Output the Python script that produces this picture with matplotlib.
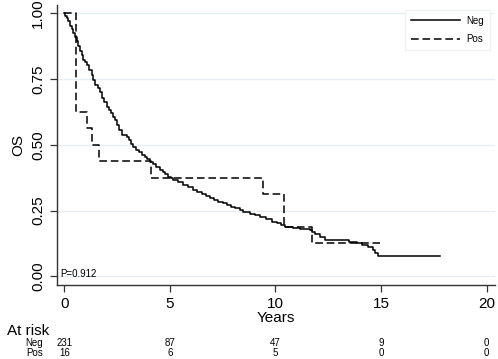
import matplotlib
matplotlib.use("Agg")
import matplotlib.pyplot as plt

plt.rcParams['font.family'] = ['Liberation Sans', 'DejaVu Sans']

# Kaplan-Meier steps
neg_t = [0, 0.05, 0.11, 0.18, 0.27, 0.34, 0.42, 0.5, 0.58, 0.66, 0.74, 0.82, 0.9,
         0.98, 1.06, 1.17, 1.29, 1.37, 1.45, 1.57, 1.69, 1.78, 1.88, 2.0, 2.1, 2.2,
         2.3, 2.4, 2.5, 2.6, 2.72, 2.95, 3.05, 3.16, 3.27, 3.4, 3.53, 3.66, 3.8,
         3.93, 4.06, 4.2, 4.36, 4.53, 4.65, 4.78, 4.92, 5.04, 5.16, 5.4, 5.6, 5.85,
         6.11, 6.3, 6.5, 6.7, 6.9, 7.1, 7.3, 7.5, 7.69, 7.9, 8.1, 8.3, 8.48, 8.8,
         9.05, 9.27, 9.55, 9.82, 10.06, 10.25, 10.46, 10.85, 11.16, 11.64, 11.75,
         11.88, 12.1, 12.35, 13.22, 13.5, 13.85, 14.1, 14.4, 14.6, 14.72, 14.88, 17.8]
neg_s = [1.0, 0.99, 0.982, 0.97, 0.951, 0.94, 0.925, 0.91, 0.894, 0.875, 0.856,
         0.84, 0.824, 0.815, 0.805, 0.786, 0.767, 0.748, 0.729, 0.715, 0.70, 0.68,
         0.662, 0.645, 0.632, 0.62, 0.607, 0.594, 0.575, 0.556, 0.537, 0.531, 0.518,
         0.505, 0.493, 0.482, 0.471, 0.461, 0.453, 0.445, 0.436, 0.426, 0.415,
         0.404, 0.396, 0.388, 0.379, 0.372, 0.366, 0.357, 0.348, 0.338, 0.328,
         0.32, 0.312, 0.305, 0.297, 0.29, 0.284, 0.277, 0.271, 0.264, 0.258, 0.252,
         0.246, 0.238, 0.232, 0.227, 0.218, 0.208, 0.203, 0.196, 0.189, 0.183,
         0.179, 0.176, 0.168, 0.161, 0.15, 0.138, 0.138, 0.132, 0.125, 0.12, 0.113,
         0.1, 0.087, 0.076, 0.076]

pos_t = [0, 0.54, 1.09, 1.32, 1.64, 4.09, 9.43, 10.4, 11.72, 14.96]
pos_s = [1.0, 0.625, 0.5625, 0.5, 0.4375, 0.375, 0.3125, 0.1875, 0.125, 0.125]

risk_times = [0, 5, 10, 15, 20]
risk_neg = [231, 87, 47, 9, 0]
risk_pos = [16, 6, 5, 0, 0]

W, H = 498, 359
fig = plt.figure(figsize=(W / 100, H / 100), dpi=100)
ax = fig.add_axes([56.7 / W, 1 - 284.7 / H, (495 - 56.7) / W, (284.7 - 5) / H])

ax.step(neg_t, neg_s, where='post', color='black', lw=1.1, label='Neg')
ax.step(pos_t, pos_s, where='post', color='black', lw=1.1,
        dashes=(5, 2.5), label='Pos')

ax.set_xlim(-0.365, 20.4)
ax.set_ylim(-0.032, 1.032)
ax.set_xticks(risk_times)
ax.set_yticks([0, 0.25, 0.5, 0.75, 1.0])
ax.set_yticklabels(['0.00', '0.25', '0.50', '0.75', '1.00'], rotation=90, va='center')
ax.tick_params(labelsize=11, length=5, width=0.9, color='#333333')
ax.tick_params(axis='x', pad=4)
ax.grid(axis='y', color='#e6eff3', lw=1)
ax.set_axisbelow(True)
for s in ['top', 'right']:
    ax.spines[s].set_visible(False)
for s in ['left', 'bottom']:
    ax.spines[s].set_color('#333333')
    ax.spines[s].set_linewidth(1)

ax.set_ylabel('OS', fontsize=11, labelpad=4)
ax.set_xlabel('Years', fontsize=11, labelpad=0)

ax.text(60 / W, 1 - 274 / H, 'P=0.912', transform=fig.transFigure,
        fontsize=7, va='center', ha='left')

leg = ax.legend(loc='upper right', bbox_to_anchor=(495 / W, 1 - 5 / H),
                bbox_transform=fig.transFigure, fontsize=7, handlelength=5.0,
                handletextpad=0.7, frameon=True, fancybox=True,
                edgecolor='#eeeeee', borderpad=0.6, labelspacing=0.85)

# number at risk table
fig.text(7 / W, 1 - 330.7 / H, 'At risk', fontsize=11, va='center', ha='left')
fig.text(43 / W, 1 - 342.7 / H, 'Neg', fontsize=7, va='center', ha='right')
fig.text(43 / W, 1 - 352.7 / H, 'Pos', fontsize=7, va='center', ha='right')
for t, n, p in zip(risk_times, risk_neg, risk_pos):
    xf = fig.transFigure.inverted().transform(ax.transData.transform((t, 0)))[0]
    fig.text(xf, 1 - 342.7 / H, str(n), fontsize=7, va='center', ha='center')
    fig.text(xf, 1 - 352.7 / H, str(p), fontsize=7, va='center', ha='center')

fig.savefig('out.png', dpi=100, facecolor='white')
